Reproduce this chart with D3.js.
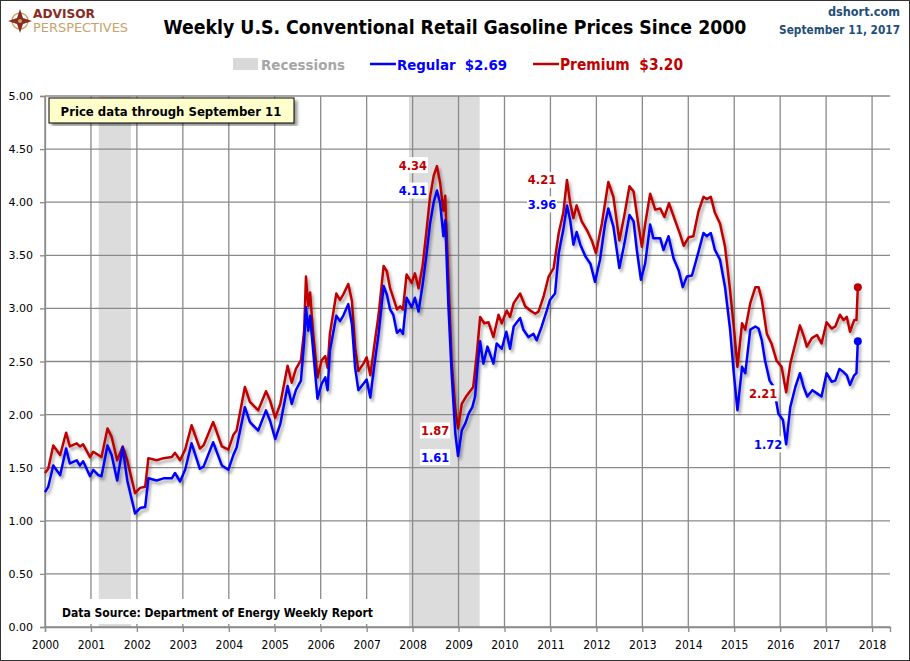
<!DOCTYPE html>
<html><head><meta charset="utf-8">
<script src="https://cdn.jsdelivr.net/npm/d3@7"></script>
<style>body{margin:0;background:#fff}svg{display:block}</style>
</head><body>
<svg id="c" width="910" height="661"></svg>
<script>
const regDates=[2000.00,2000.07,2000.18,2000.33,2000.46,2000.54,2000.69,2000.76,2000.83,2000.98,2001.05,2001.16,2001.23,2001.36,2001.45,2001.57,2001.69,2001.79,2001.96,2002.07,2002.18,2002.25,2002.43,2002.58,2002.76,2002.83,2002.94,2003.05,2003.19,2003.37,2003.45,2003.66,2003.85,2003.99,2004.10,2004.17,2004.35,2004.46,2004.64,2004.81,2004.90,2005.01,2005.12,2005.28,2005.37,2005.46,2005.57,2005.64,2005.68,2005.73,2005.77,2005.83,2005.93,2006.02,2006.10,2006.15,2006.20,2006.34,2006.42,2006.49,2006.60,2006.68,2006.75,2006.82,2006.93,2007.00,2007.08,2007.16,2007.26,2007.37,2007.44,2007.51,2007.58,2007.66,2007.73,2007.79,2007.87,2007.98,2008.05,2008.13,2008.22,2008.30,2008.38,2008.46,2008.53,2008.60,2008.67,2008.71,2008.78,2008.85,2008.93,2008.99,2009.07,2009.15,2009.22,2009.30,2009.36,2009.41,2009.47,2009.54,2009.63,2009.76,2009.83,2009.94,2010.04,2010.12,2010.20,2010.34,2010.41,2010.52,2010.63,2010.70,2010.81,2010.92,2010.99,2011.10,2011.18,2011.28,2011.36,2011.43,2011.50,2011.57,2011.65,2011.76,2011.87,2011.97,2012.08,2012.19,2012.26,2012.37,2012.50,2012.61,2012.72,2012.81,2012.88,2012.97,2013.06,2013.17,2013.24,2013.39,2013.46,2013.57,2013.68,2013.79,2013.88,2013.97,2014.08,2014.22,2014.33,2014.40,2014.49,2014.58,2014.69,2014.80,2014.91,2014.99,2015.07,2015.17,2015.24,2015.35,2015.46,2015.53,2015.60,2015.67,2015.77,2015.86,2015.96,2016.06,2016.13,2016.22,2016.33,2016.43,2016.51,2016.59,2016.70,2016.80,2016.90,2017.01,2017.12,2017.20,2017.29,2017.38,2017.45,2017.52,2017.61,2017.66,2017.69];
const regValues=[1.27,1.32,1.52,1.43,1.68,1.54,1.57,1.52,1.56,1.42,1.48,1.43,1.42,1.71,1.62,1.38,1.69,1.38,1.07,1.12,1.13,1.40,1.38,1.40,1.40,1.45,1.37,1.48,1.73,1.49,1.51,1.74,1.52,1.48,1.62,1.69,2.07,1.93,1.85,2.04,1.94,1.77,1.91,2.27,2.10,2.23,2.32,2.69,3.01,2.79,2.93,2.63,2.15,2.29,2.35,2.23,2.60,2.93,2.88,2.93,3.04,2.85,2.44,2.23,2.29,2.33,2.16,2.44,2.76,3.21,3.13,2.99,2.94,2.77,2.80,2.76,3.10,3.01,3.10,2.97,3.23,3.50,3.80,4.00,4.11,3.99,3.68,3.83,3.02,2.39,1.82,1.61,1.85,1.92,2.01,2.07,2.17,2.45,2.69,2.48,2.64,2.48,2.67,2.62,2.78,2.62,2.83,2.91,2.80,2.73,2.76,2.70,2.83,2.98,3.08,3.14,3.52,3.74,3.97,3.83,3.60,3.72,3.60,3.49,3.42,3.25,3.46,3.80,3.94,3.77,3.38,3.61,3.88,3.82,3.55,3.27,3.42,3.79,3.66,3.66,3.55,3.68,3.47,3.36,3.20,3.30,3.31,3.53,3.71,3.68,3.71,3.55,3.46,3.20,2.80,2.39,2.04,2.45,2.39,2.80,2.83,2.81,2.70,2.51,2.32,2.26,2.01,1.95,1.72,2.07,2.26,2.39,2.26,2.17,2.23,2.20,2.17,2.39,2.31,2.32,2.43,2.40,2.37,2.28,2.37,2.39,2.69];
const premDates=[2000.00,2000.07,2000.18,2000.33,2000.46,2000.54,2000.69,2000.76,2000.83,2000.98,2001.05,2001.16,2001.23,2001.36,2001.45,2001.57,2001.69,2001.79,2001.96,2002.07,2002.18,2002.25,2002.43,2002.58,2002.76,2002.83,2002.94,2003.05,2003.19,2003.37,2003.45,2003.66,2003.85,2003.99,2004.10,2004.17,2004.35,2004.46,2004.64,2004.81,2004.90,2005.01,2005.12,2005.28,2005.37,2005.46,2005.57,2005.64,2005.68,2005.73,2005.77,2005.83,2005.93,2006.02,2006.10,2006.15,2006.20,2006.34,2006.42,2006.49,2006.60,2006.68,2006.75,2006.82,2006.93,2007.00,2007.08,2007.16,2007.26,2007.37,2007.44,2007.51,2007.58,2007.66,2007.73,2007.79,2007.87,2007.98,2008.05,2008.13,2008.22,2008.30,2008.38,2008.46,2008.53,2008.60,2008.67,2008.71,2008.78,2008.85,2008.93,2008.99,2009.07,2009.18,2009.32,2009.40,2009.47,2009.56,2009.65,2009.76,2009.87,2009.94,2010.05,2010.12,2010.20,2010.34,2010.45,2010.56,2010.67,2010.74,2010.85,2010.96,2011.07,2011.18,2011.28,2011.36,2011.43,2011.50,2011.57,2011.68,2011.79,2011.90,2011.99,2012.12,2012.26,2012.37,2012.50,2012.61,2012.72,2012.81,2012.90,2012.99,2013.06,2013.17,2013.28,2013.39,2013.48,2013.58,2013.72,2013.82,2013.90,2014.01,2014.11,2014.22,2014.33,2014.40,2014.49,2014.58,2014.69,2014.80,2014.91,2014.99,2015.07,2015.17,2015.24,2015.35,2015.46,2015.53,2015.60,2015.71,2015.81,2015.92,2016.03,2016.13,2016.22,2016.33,2016.43,2016.52,2016.58,2016.69,2016.80,2016.90,2017.01,2017.12,2017.20,2017.30,2017.38,2017.45,2017.52,2017.61,2017.66,2017.69];
const premValues=[1.45,1.49,1.71,1.62,1.83,1.70,1.73,1.70,1.72,1.60,1.65,1.62,1.60,1.87,1.79,1.57,1.70,1.57,1.26,1.31,1.32,1.59,1.57,1.59,1.60,1.64,1.57,1.67,1.90,1.68,1.71,1.93,1.70,1.67,1.81,1.85,2.26,2.12,2.04,2.22,2.13,1.97,2.10,2.46,2.30,2.43,2.51,2.79,3.30,3.02,3.15,2.79,2.35,2.51,2.55,2.44,2.76,3.14,3.08,3.13,3.23,3.07,2.63,2.41,2.48,2.54,2.37,2.63,2.94,3.40,3.35,3.19,3.10,2.99,3.02,2.99,3.32,3.24,3.33,3.19,3.41,3.72,4.05,4.25,4.34,4.18,3.92,4.06,3.27,2.50,2.05,1.87,2.10,2.18,2.26,2.58,2.92,2.86,2.87,2.73,2.94,2.86,2.98,2.92,3.05,3.14,3.02,2.98,2.95,2.97,3.11,3.30,3.38,3.71,3.90,4.21,3.99,3.85,3.97,3.82,3.74,3.64,3.52,3.80,4.19,4.05,3.64,3.88,4.15,4.10,3.83,3.58,3.79,4.08,3.93,3.94,3.86,3.99,3.82,3.70,3.59,3.67,3.68,3.91,4.05,4.03,4.05,3.90,3.80,3.58,3.17,2.83,2.45,2.86,2.80,3.05,3.20,3.20,3.08,2.76,2.67,2.51,2.45,2.21,2.48,2.67,2.84,2.73,2.64,2.72,2.75,2.67,2.87,2.81,2.83,2.94,2.89,2.92,2.78,2.89,2.89,3.20];
const recessionStarts=[2001.17,2007.92];
const recessionEnds=[2001.87,2009.46];
const yearTicks=d3.range(2000,2019);
const priceTicks=[0,0.5,1,1.5,2,2.5,3,3.5,4,4.5,5];
// peak/trough annotations
const noteDates=[2008.53,2008.53,2008.99,2008.99,2011.36,2011.36,2016.13,2016.13];
const noteTexts=["4.34","4.11","1.87","1.61","4.21","3.96","2.21","1.72"];
const noteSeries=["p","r","p","r","p","r","p","r"];

const NARROW="'Liberation Sans Narrow','Arial Narrow','DejaVu Sans Condensed',sans-serif";
const BLUE="#0000ff", RED="#c00000";
const svg=d3.select("#c");
const W=910,H=661, L=45,R=890,T=96,B=627;
const x=d3.scaleLinear().domain([2000,2018.39]).range([L,R]);
const y=d3.scaleLinear().domain([0,5]).range([B,T]);

// scale a text's font size so that its natural width equals the wanted width
function fit(sel,width){
  const fs=+sel.attr("font-size")||+sel.node().parentNode.getAttribute("font-size")||14;
  const w=sel.node().getComputedTextLength();
  if(w>0) sel.attr("font-size",(fs*width/w).toFixed(2));
  return sel;
}

const defs=svg.append("defs");
const f=defs.append("filter").attr("id","sh").attr("x","-5%").attr("y","-5%").attr("width","110%").attr("height","115%");
f.append("feDropShadow").attr("dx",2).attr("dy",3).attr("stdDeviation",1.5).attr("flood-color","#000").attr("flood-opacity",0.35);
const f2=defs.append("filter").attr("id","bsh");
f2.append("feDropShadow").attr("dx",3).attr("dy",3).attr("stdDeviation",1.5).attr("flood-color","#000").attr("flood-opacity",0.4);

svg.append("rect").attr("x",0.5).attr("y",0.5).attr("width",W-1).attr("height",H-1).attr("fill","#fff").attr("stroke","#333");

// recessions
svg.append("g").selectAll("rect").data(recessionStarts).join("rect")
  .attr("x",d=>x(d)).attr("width",(d,i)=>x(recessionEnds[i])-x(d))
  .attr("y",T).attr("height",B-T).attr("fill","#dcdcdc");

// grid
const grid=svg.append("g").attr("stroke","#8a8a8a").attr("stroke-width",1.3);
grid.selectAll(".v").data(yearTicks).join("line").attr("x1",d=>x(d)).attr("x2",d=>x(d)).attr("y1",T).attr("y2",B);
grid.selectAll(".h").data(priceTicks).join("line").attr("x1",L).attr("x2",R).attr("y1",d=>y(d)).attr("y2",d=>y(d));

// axes
const xa=svg.append("g").attr("transform",`translate(0,${B})`)
  .call(d3.axisBottom(x).tickValues(yearTicks).tickFormat(d3.format("d")).tickSize(5).tickPadding(8));
xa.select(".domain").attr("stroke","#8a8a8a").attr("stroke-width",1.3);
xa.selectAll(".tick line").attr("stroke","#8a8a8a").attr("stroke-width",1.3);
xa.selectAll("text").attr("font-family",NARROW).attr("font-size",12).attr("fill","#000");
const ya=svg.append("g").attr("transform",`translate(${L},0)`)
  .call(d3.axisLeft(y).tickValues(priceTicks).tickFormat(d3.format(".2f")).tickSize(5).tickPadding(7));
ya.select(".domain").attr("stroke","#8a8a8a").attr("stroke-width",1.3);
ya.selectAll(".tick line").attr("stroke","#8a8a8a").attr("stroke-width",1.3);
ya.selectAll("text").attr("font-family","'DejaVu Sans',sans-serif").attr("font-size",11).attr("fill","#000");

// data source box
const ds=svg.append("g");
ds.append("rect").attr("x",55).attr("y",599).attr("width",325).attr("height",25).attr("fill","#fff");
fit(ds.append("text").attr("x",62).attr("y",617).attr("font-family",NARROW).attr("font-weight","bold").attr("font-size",14)
  .text("Data Source: Department of Energy Weekly Report"),311);

// lines
const line=d3.line().x(d=>x(d[0])).y(d=>y(d[1]));
const regPts=regDates.map((d,i)=>[d,regValues[i]]);
const premPts=premDates.map((d,i)=>[d,premValues[i]]);
svg.append("path").attr("d",line(premPts)).attr("fill","none").attr("stroke",RED).attr("stroke-width",2.5).attr("stroke-linejoin","round").attr("filter","url(#sh)");
svg.append("path").attr("d",line(regPts)).attr("fill","none").attr("stroke",BLUE).attr("stroke-width",2.5).attr("stroke-linejoin","round").attr("filter","url(#sh)");
const lastR=regPts[regPts.length-1], lastP=premPts[premPts.length-1];
svg.append("circle").attr("cx",x(lastP[0])).attr("cy",y(lastP[1])).attr("r",4).attr("fill",RED);
svg.append("circle").attr("cx",x(lastR[0])).attr("cy",y(lastR[1])).attr("r",4).attr("fill",BLUE);

// annotations (label centre offset from its data point, in px)
const noteOffsets=[[-24,-1],[-24,0],[-23,2],[-23,1],[-25,0],[-25,-1],[-23,1],[-18,0]];
const ng=svg.append("g");
noteTexts.forEach((t,i)=>{
  const v=noteSeries[i]==="p"?premValues[premDates.indexOf(noteDates[i])]:regValues[regDates.indexOf(noteDates[i])];
  const cx=x(noteDates[i])+noteOffsets[i][0], cy=y(v)+noteOffsets[i][1];
  ng.append("rect").attr("x",cx-15).attr("y",cy-8).attr("width",30).attr("height",16).attr("fill","#fff");
  ng.append("text").attr("x",cx).attr("y",cy+4.5).attr("text-anchor","middle")
    .attr("font-family","'DejaVu Sans',sans-serif").attr("font-weight","bold").attr("font-size",11.5)
    .attr("fill",noteSeries[i]==="p"?RED:BLUE).text(t);
});

// price data box
const pb=svg.append("g");
pb.append("rect").attr("x",49).attr("y",98).attr("width",245).attr("height",25).attr("fill","#ffffcc").attr("stroke","#000").attr("stroke-width",1).attr("filter","url(#bsh)");
fit(pb.append("text").attr("x",171).attr("y",116).attr("text-anchor","middle").attr("font-family",NARROW).attr("font-weight","bold").attr("font-size",15)
  .text("Price data through September 11"),221);

// title
fit(svg.append("text").attr("x",455).attr("y",34).attr("text-anchor","middle").attr("font-family",NARROW).attr("font-weight","bold").attr("font-size",23)
  .text("Weekly U.S. Conventional Retail Gasoline Prices Since 2000"),583);

// logo
const lg=svg.append("g");
const lcx=20,lcy=21;
lg.append("circle").attr("cx",lcx).attr("cy",lcy).attr("r",8).attr("fill","none").attr("stroke","#c8a26a").attr("stroke-width",1.5);
lg.append("path").attr("d",`M${lcx},${lcy-12} L${lcx+3},${lcy-3} L${lcx+12},${lcy} L${lcx+3},${lcy+3} L${lcx},${lcy+12} L${lcx-3},${lcy+3} L${lcx-12},${lcy} L${lcx-3},${lcy-3} Z`).attr("fill","#8b2a1e");
lg.append("circle").attr("cx",lcx).attr("cy",lcy).attr("r",2).attr("fill","#c8a26a");
lg.append("text").attr("x",33).attr("y",18).attr("font-family",NARROW).attr("font-weight","bold").attr("font-size",12).attr("fill","#8b2a1e")
  .attr("textLength",62).attr("lengthAdjust","spacingAndGlyphs").text("ADVISOR");
lg.append("text").attr("x",33).attr("y",32).attr("font-family",NARROW).attr("font-size",12).attr("fill","#c8a26a")
  .attr("textLength",95).attr("lengthAdjust","spacingAndGlyphs").text("PERSPECTIVES");

// right header
fit(svg.append("text").attr("x",900).attr("y",16).attr("text-anchor","end").attr("font-family",NARROW).attr("font-weight","bold").attr("font-size",12.5).attr("fill","#1f4e79")
  .text("dshort.com"),72);
fit(svg.append("text").attr("x",900).attr("y",34).attr("text-anchor","end").attr("font-family",NARROW).attr("font-weight","bold").attr("font-size",12.5).attr("fill","#1f4e79")
  .text("September 11, 2017"),121);

// legend
const lgd=svg.append("g").attr("font-family",NARROW).attr("font-weight","bold").attr("font-size",17);
lgd.append("rect").attr("x",233).attr("y",58).attr("width",25).attr("height",12).attr("fill","#d9d9d9");
fit(lgd.append("text").attr("x",261).attr("y",70).attr("font-size",17).attr("fill","#a6a6a6").text("Recessions"),84);
lgd.append("line").attr("x1",370).attr("x2",396).attr("y1",64).attr("y2",64).attr("stroke",BLUE).attr("stroke-width",2.5);
fit(lgd.append("text").attr("x",397).attr("y",70).attr("font-size",17).attr("fill",BLUE).attr("xml:space","preserve").text("Regular  $"+regValues[regValues.length-1].toFixed(2)),110);
lgd.append("line").attr("x1",533).attr("x2",559).attr("y1",64).attr("y2",64).attr("stroke",RED).attr("stroke-width",2.5);
fit(lgd.append("text").attr("x",560).attr("y",70).attr("font-size",17).attr("fill",RED).attr("xml:space","preserve").text("Premium  $"+premValues[premValues.length-1].toFixed(2)),123);
</script>
</body></html>
